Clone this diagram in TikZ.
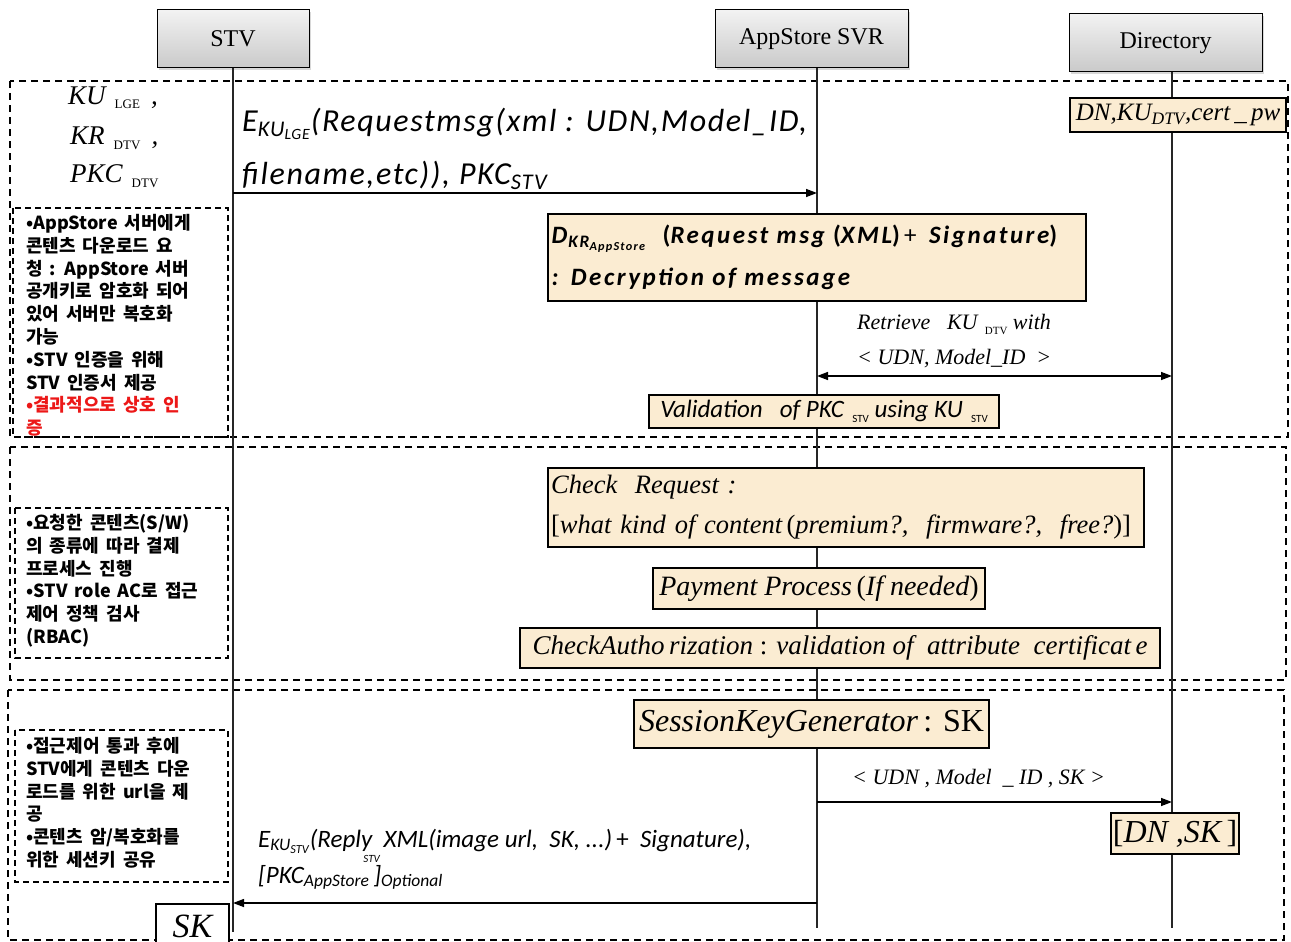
\documentclass[tikz,border=0pt]{standalone}
\usepackage{fontspec}
\setmainfont{Liberation Serif}
\newfontfamily\calfont{Carlito}
\newfontfamily\calwide{Carlito}[LetterSpace=5]
\newfontfamily\calwider{Carlito}[LetterSpace=10]
\newfontfamily\krfont{Noto Sans CJK KR}[WordSpace=1.7]
\usetikzlibrary{arrows.meta,shadows}
\definecolor{notebg}{RGB}{251,236,210}
\definecolor{warnred}{RGB}{236,24,24}
% lowered upright subscript, as set by the equation editor
\newcommand\lowsub[2][13]{\,\,\raisebox{-5pt}{\upshape\fontsize{#1}{#1}\selectfont #2}}
\begin{document}
\begin{tikzpicture}[x=1pt,y=-1pt,
  life/.style={line width=1.4pt, draw=black!85},
  msg/.style={line width=1.4pt, -{Triangle[length=11pt,width=8pt]}},
  biway/.style={line width=1.4pt, {Triangle[length=11pt,width=8pt]}-{Triangle[length=11pt,width=8pt]}},
  region/.style={line width=1.3pt, dash pattern=on 7pt off 5pt},
  notebox/.style={line width=1.2pt, dash pattern=on 6pt off 4pt},
  head/.style={draw=black, line width=1pt, top color=gray!10, bottom color=gray!42,
    minimum height=58pt, inner sep=0pt,
    drop shadow={shadow xshift=2pt, shadow yshift=-2pt, opacity=0.3},
    font=\fontsize{24}{28}\selectfont},
  act/.style={draw=black, line width=2.2pt, fill=notebg, inner sep=3pt},
  kr/.style={anchor=north west, align=left, inner sep=0pt,
    font=\krfont\bfseries\fontsize{18}{22.8}\selectfont},
  lbl/.style={inner sep=0pt},
]
\useasboundingbox (0,0) rectangle (1291,942);
\fill[white] (0,0) rectangle (1291,942);

% ---- phase regions ----
\draw[region] (10,81) rectangle (1288,437);
\draw[region] (10,447) rectangle (1286,680);
\draw[region] (8,690) rectangle (1284,940);

% ---- explanatory notes ----
\draw[notebox] (13,208) rectangle (228,437);
\draw[notebox] (15,508) rectangle (228,658);
\draw[notebox] (15,730) rectangle (228,882);

\node[kr] (n1) at (26,214) {•AppStore 서버에게\\콘텐츠 다운로드 요\\청 : AppStore 서버\\공개키로 암호화 되어\\있어 서버만 복호화\\가능\\•STV 인증을 위해\\STV 인증서 제공\\\textcolor{warnred}{•결과적으로 상호 인}\\\textcolor{warnred}{증}};
\node[kr] (n2) at (26,514) {•요청한 콘텐츠(S/W)\\의 종류에 따라 결제\\프로세스 진행\\•STV role AC로 접근\\제어 정책 검사\\(RBAC)};
\node[kr] (n3) at (26,737) {•접근제어 통과 후에\\STV에게 콘텐츠 다운\\로드를 위한 url을 제\\공\\•콘텐츠 암/복호화를\\위한 세션키 공유};

% ---- participants and lifelines ----
\node[head, minimum width=152pt] (stv) at (233,39) {STV};
\node[head, minimum width=193pt] (app) at (811.5,39) {AppStore SVR};
\node[head, minimum width=193pt] (dir) at (1165.5,43) {Directory};

\coordinate (stvTop) at (233,68);  \coordinate (stvEnd) at (233,932);
\coordinate (appTop) at (817,68);  \coordinate (appEnd) at (817,928);
\coordinate (dirTop) at (1172,72); \coordinate (dirEnd) at (1172,928);
\draw[life] (stvTop) -- (stvEnd);
\draw[life] (appTop) -- (appEnd);
\draw[life] (dirTop) -- (dirEnd);

% ---- keys held by the STV ----
\begin{scope}[font=\itshape\fontsize{27}{30}\selectfont]
\node[lbl, anchor=base west] (kulge) at (68,104) {KU\lowsub{LGE}\, ,};
\node[lbl, anchor=base west] (krdtv) at (70,144) {KR\lowsub{DTV}\, ,};
\node[lbl, anchor=base west] (pkcdtv) at (70,182) {PKC\lowsub{DTV}};
\end{scope}

% ---- directory store ----
\node[act, minimum width=216pt, minimum height=34pt, inner sep=1pt, anchor=north west,
  font=\itshape\fontsize{25}{28}\selectfont] (dirdb) at (1069,97)
  {DN,KU\textsubscript{DTV},cert\,\_\,pw};

% ---- message 1: request ----
\coordinate (s1) at (233,193); \coordinate (a1) at (817,193);
\draw[msg] (s1) -- (a1);
\begin{scope}[font=\calwide\itshape\fontsize{32}{36}\selectfont]
\node[lbl, anchor=base west] (req1) at (242,131) {E\textsubscript{KU\textsubscript{LGE}}(Requestmsg(xml : UDN,Model\_ID,};
\node[lbl, anchor=base west] (req2) at (242,184) {filename,etc)), PKC\textsubscript{STV}};
\end{scope}

% ---- decryption ----
\node[act, anchor=north west, minimum width=538pt, minimum height=87pt, text width=531pt,
  inner xsep=3pt, align=left,
  font=\calwider\bfseries\itshape\fontsize{25}{42}\selectfont] (dec) at (547,213)
  {D\textsubscript{\kern1pt KR\textsubscript{AppStore}}~~{\upshape(}Request msg {\upshape(}XML{\upshape)}{\mdseries\upshape\,+\,} Signature{\upshape)}\\: Decryption of message};

% ---- key lookup ----
\begin{scope}[font=\itshape\fontsize{22}{26}\selectfont]
\node[lbl, anchor=base west] (ret1) at (857,329) {Retrieve~~ KU\lowsub[11]{DTV} with};
\node[lbl, anchor=base west] (ret2) at (857,364) {< UDN, Model\_ID~ >};
\end{scope}
\coordinate (a2) at (817,376); \coordinate (d2) at (1172,376);
\draw[biway] (a2) -- (d2);

% ---- validation ----
\node[act, minimum width=350pt, minimum height=33pt, inner sep=1pt,
  font=\calfont\itshape\fontsize{25}{28}\selectfont] (val) at (824,411.5)
  {Validation~~ of PKC\lowsub[11]{STV} using KU\lowsub[11]{STV}};

% ---- request checks ----
\node[act, anchor=north west, minimum width=596pt, minimum height=79pt, text width=590pt,
  inner xsep=3pt, align=left,
  font=\itshape\fontsize{26.5}{40}\selectfont] (chk) at (547,467)
  {Check~ Request :\\{\upshape[}what kind of content\,{\upshape(}premium?,~ firmware?,~ free?{\upshape)]}};
\node[act, minimum width=332pt, minimum height=41pt, inner sep=1pt,
  font=\itshape\fontsize{28}{30}\selectfont] (pay) at (819,588.5)
  {Payment Process\,{\upshape(}If needed{\upshape)}};
\node[act, minimum width=640pt, minimum height=40pt, inner sep=1pt,
  font=\itshape\fontsize{27}{30}\selectfont] (auth) at (840,648)
  {CheckAutho\,rization {\upshape:} validation of~ attribute~ certificat\,e};

% ---- session key ----
\node[act, minimum width=355pt, minimum height=48pt, inner sep=1pt,
  font=\itshape\fontsize{32}{36}\selectfont] (skgen) at (811.5,724)
  {SessionKeyGenerator{\upshape\,: SK}};
\node[lbl, anchor=base west, font=\itshape\fontsize{22}{26}\selectfont] (skmsg) at (852,784)
  {< UDN , Model~ \_ ID , SK >};
\coordinate (a3) at (817,802); \coordinate (d3) at (1172,802);
\draw[msg] (a3) -- (d3);
\node[act, anchor=north west, minimum width=128pt, minimum height=41pt, inner sep=1pt,
  font=\itshape\fontsize{32}{36}\selectfont] (dnsk) at (1110,812)
  {{\upshape[}DN ,SK\,{\upshape]}};

% ---- reply to the STV ----
\begin{scope}[font=\calfont\itshape\fontsize{25}{28}\selectfont]
\node[lbl, anchor=base west] (rep1) at (258,847)
  {E\textsubscript{KU\textsubscript{STV}}(\rlap{\hspace{46pt}\raisebox{-15pt}{\fontsize{11}{11}\selectfont STV}}Reply~ XML(image url,~ SK, ...)\,{\upshape +}~ Signature),};
\node[lbl, anchor=base west] (rep2) at (258,883)
  {[PKC\textsubscript{AppStore}\,]\textsubscript{Optional}};
\end{scope}
\coordinate (a4) at (817,903); \coordinate (s4) at (233,903);
\draw[msg] (a4) -- (s4);
\node[draw=black, line width=2pt, fill=white, anchor=north west, minimum width=73pt,
  minimum height=44pt, inner sep=1pt, font=\itshape\fontsize{34}{38}\selectfont] (sk) at (155,903) {SK};
\end{tikzpicture}
\end{document}
